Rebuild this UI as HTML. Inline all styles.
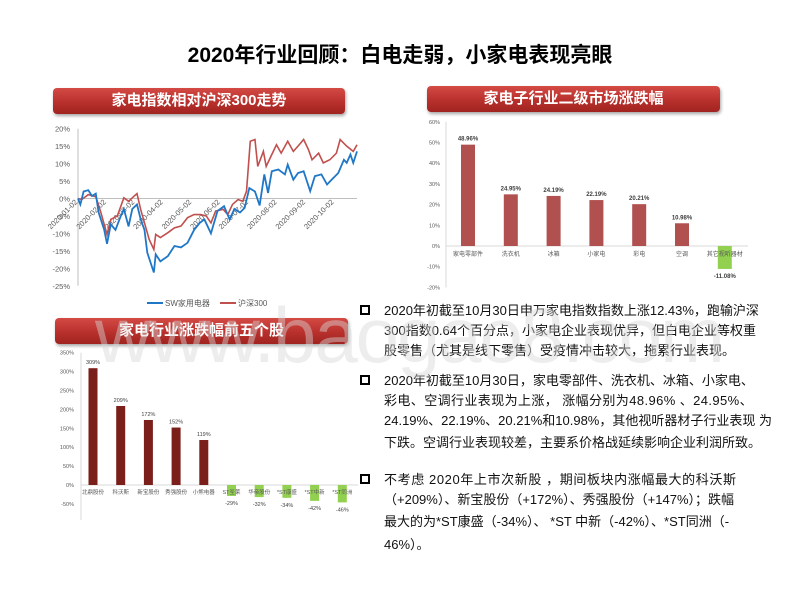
<!DOCTYPE html>
<html><head><meta charset="utf-8">
<style>
body{margin:0;width:800px;height:600px;background:#fff;position:relative;overflow:hidden;font-family:"Liberation Sans","Noto Sans CJK SC",sans-serif;}
.hdr{position:absolute;height:26px;border-radius:4px;background:linear-gradient(#d44a45,#b8302c 55%,#a02420);color:#fff;font-size:15px;font-weight:bold;text-align:center;line-height:26px;box-shadow:1px 2px 3px rgba(0,0,0,0.35);}
.ln{position:absolute;left:384px;font-size:13px;color:#111;white-space:nowrap;line-height:16px;}
.bul{position:absolute;left:360px;width:6px;height:6px;border:2px solid #000;}
svg text{font-family:"Liberation Sans","Noto Sans CJK SC",sans-serif;}
</style></head><body>
<div style="position:absolute;left:0;width:800px;top:39px;text-align:center;font-size:21px;font-weight:bold;color:#000;">2020年行业回顾：白电走弱，小家电表现亮眼</div>
<div class="hdr" style="left:53px;top:88px;width:292px;">家电指数相对沪深300走势</div>
<div class="hdr" style="left:427px;top:86px;width:293px;">家电子行业二级市场涨跌幅</div>
<div class="hdr" style="left:55px;top:318px;width:293px;">家电行业涨跌幅前五个股</div>

<svg id="c1" width="800" height="600" style="position:absolute;left:0;top:0;"></svg>
<svg id="c2" width="800" height="600" style="position:absolute;left:0;top:0;"></svg>
<svg id="c3" width="800" height="600" style="position:absolute;left:0;top:0;"></svg>

<div class="bul" style="top:305px;"></div>
<div class="ln" style="top:303px;">2020年初截至10月30日申万家电指数指数上涨12.43%，跑输沪深</div>
<div class="ln" style="top:323px;">300指数0.64个百分点，小家电企业表现优异，但白电企业等权重</div>
<div class="ln" style="top:343px;">股零售（尤其是线下零售）受疫情冲击较大，拖累行业表现。</div>
<div class="bul" style="top:375px;"></div>
<div class="ln" style="top:373px;">2020年初截至10月30日，家电零部件、洗衣机、冰箱、小家电、</div>
<div class="ln" style="top:393px;letter-spacing:0.4px;">彩电、空调行业表现为上涨， 涨幅分别为48.96% 、24.95%、</div>
<div class="ln" style="top:413px;">24.19%、22.19%、20.21%和10.98%，其他视听器材子行业表现 为</div>
<div class="ln" style="top:435px;">下跌。空调行业表现较差，主要系价格战延续影响企业利润所致。</div>
<div class="bul" style="top:474px;"></div>
<div class="ln" style="top:472px;letter-spacing:0.6px;">不考虑 2020年上市次新股 ，期间板块内涨幅最大的科沃斯</div>
<div class="ln" style="top:492px;">（+209%）、新宝股份（+172%）、秀强股份（+147%）；跌幅</div>
<div class="ln" style="top:514px;">最大的为*ST康盛（-34%）、 *ST  中新（-42%）、*ST同洲（-</div>
<div class="ln" style="top:537px;">46%）。</div>

<svg width="800" height="600" style="position:absolute;left:0;top:0;pointer-events:none;">
<text x="95" y="362" font-size="78" textLength="630" fill="rgba(215,215,215,0.45)">www.baogao8.com</text>
</svg>

<script>
// ---- Chart 1 data ----
const blueDays=[0,2.5,6,11,15,19,22,28,31,35,40,45,49,54,58,63,67,71,74,81,83,88,96,103,110,117,124,130,135,142,149,156,162,167,173,178,183,189,194,199,203,207,214,221,224,230,235,241,248,253,260,266,271,278,284,287,291,294,298];
const blueVals=[0,-1.7,2,2.4,0.7,1.4,-4,-9,-13,-7.4,-9,-5.5,-3,-8,-3,-1.7,-6,-9,-15.5,-21.2,-16,-18,-16.5,-13.6,-14,-12.7,-9,-7,-6,-10,-3.6,-2.2,-6,-3,-4,-2.7,3,2,-2,6.9,1.6,7.8,8.3,6.9,9.7,5.4,7.3,7.8,2.1,6.4,6.9,4,5.4,7.3,11.1,10.2,12.6,10.2,13.5];
const redDays=[0,4,11,19,24,31,35,42,49,54,60,63,67,72,76,81,83,88,96,103,110,117,124,131,137,142,147,155,160,165,171,176,180,184,189,192,198,201,207,212,217,224,230,235,241,246,250,257,262,269,276,280,287,294,298];
const redVals=[0,-0.3,1.1,0.5,-3.6,-10.3,-6,-5,0.2,-0.8,0.7,1.4,-3.2,-7.9,-11.7,-14.6,-10.3,-11.2,-9.8,-8.4,-7.9,-5.5,-4.6,-4.6,-5,-7,-3.6,-3.1,-4.6,-1.7,-0.3,-0.8,2.1,16.4,16.9,9.2,13.5,9.2,12.6,15.4,13,16.4,13.5,15,16.9,14.1,11.1,13,10.2,11.1,13,16.9,15,13.5,15.4];
const yTicks1=[20,15,10,5,0,-5,-10,-15,-20,-25];
const dateLabels=["2020-01-02","2020-02-02","2020-03-02","2020-04-02","2020-05-02","2020-06-02","2020-07-02","2020-08-02","2020-09-02","2020-10-02"];
const dateDays=[0,30.4,60.8,91.2,121.6,152,182.4,212.8,243.2,273.6];

// ---- Chart 2 data ----
const cats2=["家电零部件","洗衣机","冰箱","小家电","彩电","空调","其它视听器材"];
const vals2=[48.96,24.95,24.19,22.19,20.21,10.98,-11.08];
const yTicks2=[60,50,40,30,20,10,0,-10,-20];

// ---- Chart 3 data ----
const cats3=["北鼎股份","科沃斯","新宝股份","秀强股份","小熊电器","ST圣莱","华帝股份","*ST康盛","*ST中新","*ST同洲"];
const vals3=[309,209,172,152,119,-29,-32,-34,-42,-46];
const yTicks3=[350,300,250,200,150,100,50,0,-50];

const NS="http://www.w3.org/2000/svg";
function mk(svg,tag,attrs,txt){const e=document.createElementNS(NS,tag);for(const k in attrs)e.setAttribute(k,attrs[k]);if(txt!==undefined)e.textContent=txt;svg.appendChild(e);return e;}

// Chart 1
(function(){
const s=document.getElementById('c1');
const X=d=>78+d*279/298, Y=v=>198.5-v*3.49;
let e=mk(s,'line',{x1:78,y1:Y(20),x2:78,y2:Y(-25),stroke:'#bfbfbf','stroke-width':1});

e=mk(s,'line',{x1:78,y1:Y(0),x2:357,y2:Y(0),stroke:'#bfbfbf','stroke-width':1});

yTicks1.forEach(v=>{const t=mk(s,'text',{x:70,y:Y(v)+3,'font-size':7.5,fill:'#595959','text-anchor':'end'},v+'%');
});
dateLabels.forEach((l,i)=>{const x=X(dateDays[i]);const t=mk(s,'text',{x:x,y:Y(0)+4,'font-size':7.5,fill:'#595959','text-anchor':'end',transform:`rotate(-45 ${x} ${Y(0)+4})`},l);
});
let p=mk(s,'polyline',{points:redDays.map((d,i)=>X(d)+','+Y(redVals[i])).join(' '),fill:'none',stroke:'#c0504d','stroke-width':1.6});

p=mk(s,'polyline',{points:blueDays.map((d,i)=>X(d)+','+Y(blueVals[i])).join(' '),fill:'none',stroke:'#1f77c8','stroke-width':1.8});

e=mk(s,'line',{x1:147,y1:303,x2:163,y2:303,stroke:'#1f77c8','stroke-width':2});

e=mk(s,'text',{x:165,y:306,'font-size':8,fill:'#595959'},'SW家用电器');

e=mk(s,'line',{x1:220,y1:303,x2:236,y2:303,stroke:'#c0504d','stroke-width':2});

e=mk(s,'text',{x:238,y:306,'font-size':8,fill:'#595959'},'沪深300');

})();

// Chart 2
(function(){
const s=document.getElementById('c2');
const Y=v=>246-v*2.07, X=i=>468+i*42.8;
let e=mk(s,'line',{x1:446,y1:Y(60),x2:446,y2:Y(-20),stroke:'#d9d9d9'});

e=mk(s,'line',{x1:446,y1:Y(0),x2:748,y2:Y(0),stroke:'#d9d9d9'});

yTicks2.forEach(v=>{const t=mk(s,'text',{x:440,y:Y(v)+2,'font-size':5.5,fill:'#595959','text-anchor':'end'},v+'%');
});
vals2.forEach((v,i)=>{const x=X(i);const neg=v<0;
const r=mk(s,'rect',{x:x-7,y:neg?Y(0):Y(v),width:14,height:Math.abs(Y(v)-Y(0)),fill:neg?'#92d050':'#b0504f'});

const t=mk(s,'text',{x:x,y:neg?Y(v)+9:Y(v)-4,'font-size':6,'font-weight':'bold',fill:'#404040','text-anchor':'middle'},v.toFixed(2)+'%');

const c=mk(s,'text',{x:x,y:Y(0)+10,'font-size':6,fill:'#595959','text-anchor':'middle'},cats2[i]);
});
})();

// Chart 3
(function(){
const s=document.getElementById('c3');
const Y=v=>485-v*0.378, X=i=>93+i*27.7;
let e=mk(s,'line',{x1:81,y1:Y(350),x2:81,y2:520,stroke:'#d9d9d9'});

e=mk(s,'line',{x1:81,y1:Y(0),x2:358,y2:Y(0),stroke:'#d9d9d9'});

yTicks3.forEach(v=>{const t=mk(s,'text',{x:74,y:Y(v)+2,'font-size':5.5,fill:'#595959','text-anchor':'end'},v+'%');
});
vals3.forEach((v,i)=>{const x=X(i);const neg=v<0;
const r=mk(s,'rect',{x:x-4.5,y:neg?Y(0):Y(v),width:9,height:Math.abs(Y(v)-Y(0)),fill:neg?'#92d050':'#7b1f1a'});

const t=mk(s,'text',{x:x,y:neg?Y(v)+9:Y(v)-4,'font-size':5.5,fill:'#404040','text-anchor':'middle'},v+'%');

const c=mk(s,'text',{x:x,y:Y(0)+9,'font-size':5.5,fill:'#595959','text-anchor':'middle'},cats3[i]);
});
})();
</script>
</body></html>
